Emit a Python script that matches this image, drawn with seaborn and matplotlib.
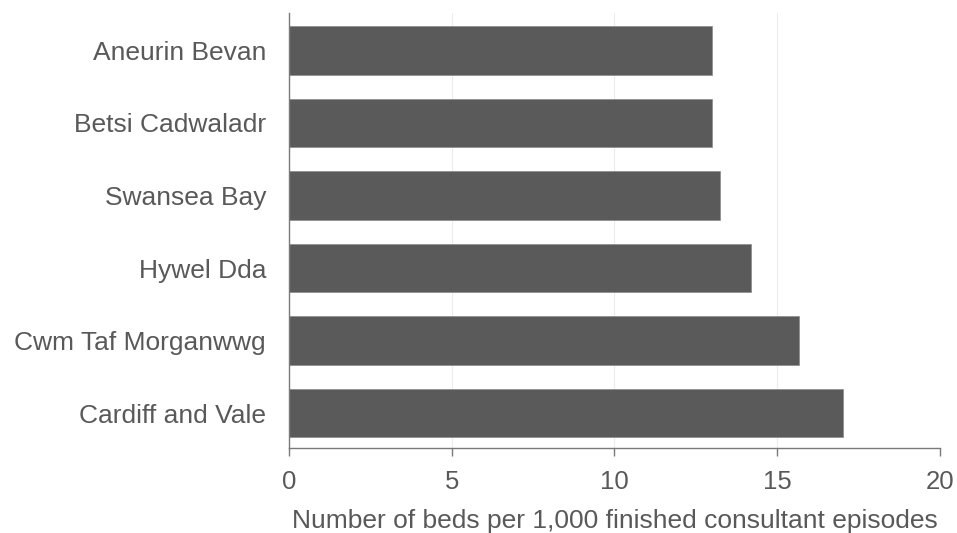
import pandas as pd
import matplotlib.pyplot as plt
import seaborn as sns

# Datos
boards = ["Aneurin Bevan", "Betsi Cadwaladr", "Swansea Bay", "Hywel Dda",
          "Cwm Taf Morganwwg", "Cardiff and Vale"]
beds = [13.0, 13.0, 13.24, 14.2, 15.68, 17.02]

df = pd.DataFrame({"Board": boards, "Beds": beds})

sns.set_style("white")
plt.rcParams['font.family'] = ['Liberation Sans', 'DejaVu Sans']

fig = plt.figure(figsize=(9.57, 5.33), dpi=100)
ax = fig.add_axes([0.302, 0.1595, 0.680, 0.8155])

sns.barplot(data=df, x="Beds", y="Board", orient="h", color="#5a5a5a",
            saturation=1, width=0.67, edgecolor="#8a8a8a", linewidth=0.5,
            ax=ax)

ax.set_xlim(0, 20)
ax.set_ylim(5.48, -0.51)
ax.set_xticks([0, 5, 10, 15, 20])
ax.xaxis.grid(True, color="#ececec", linewidth=0.8)
ax.set_axisbelow(True)

for s in ["top", "right"]:
    ax.spines[s].set_visible(False)
for s in ["left", "bottom"]:
    ax.spines[s].set_color("#7a7a7a")
    ax.spines[s].set_linewidth(1.0)

ax.tick_params(axis="x", bottom=True, length=6, width=1, color="#7a7a7a",
               labelsize=18.5, labelcolor="#595959", pad=10)
ax.tick_params(axis="y", left=False, length=0, labelsize=19,
               labelcolor="#595959", pad=16.5)

ax.set_xlabel("Number of beds per 1,000 finished consultant episodes",
              fontsize=19, color="#595959", labelpad=11)
ax.set_ylabel("")

plt.savefig("out.png", dpi=100)
